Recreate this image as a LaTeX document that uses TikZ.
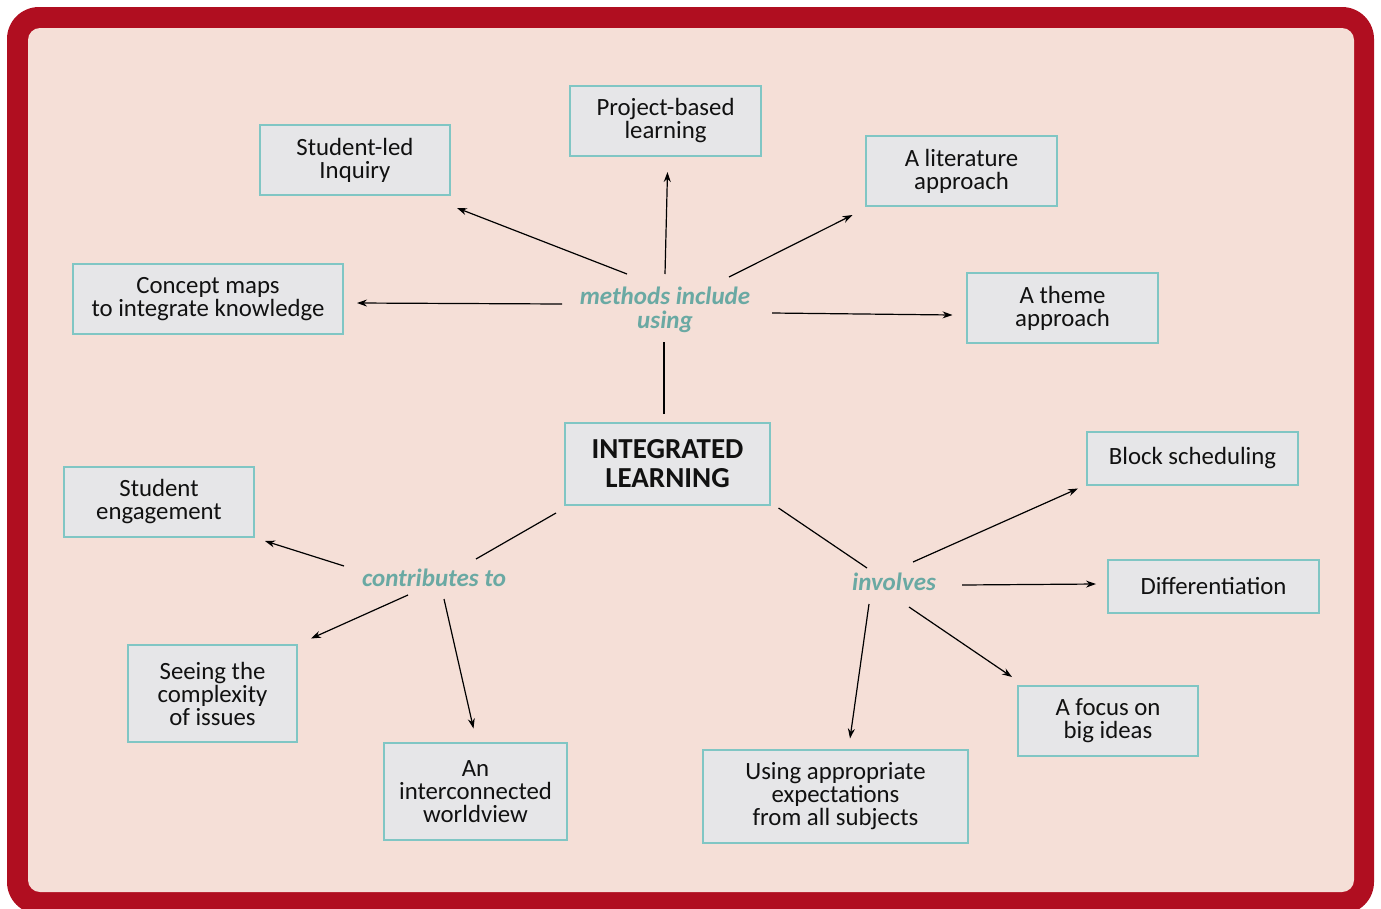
\documentclass[tikz,border=0pt]{standalone}
\usepackage{fontspec}
\setmainfont{Carlito}
\usetikzlibrary{arrows.meta,calc}
\definecolor{framered}{HTML}{B00E20}
\definecolor{bgpink}{HTML}{F5DFD7}
\definecolor{boxfill}{HTML}{E6E6E8}
\definecolor{boxline}{HTML}{80C6C4}
\definecolor{labteal}{HTML}{6AA9A3}
\definecolor{txt}{HTML}{111111}
\newcommand\boxfont{\fontsize{24.8}{23}\selectfont}
\newcommand\labfont{\fontsize{25}{24}\selectfont\bfseries\itshape}
\tikzset{
  conceptbox/.style={draw=boxline, line width=2pt, fill=boxfill, align=center,
    font=\boxfont, text=txt, inner sep=0pt, outer sep=0pt},
  linklabel/.style={align=center, font=\labfont, text=labteal, inner sep=0pt},
  arr/.style={line width=1.2pt, draw=black, -{Stealth[length=10pt,width=7pt]}},
  plain/.style={line width=1.2pt, draw=black},
}
\begin{document}
\begin{tikzpicture}[x=1pt,y=-1pt]
\useasboundingbox (0,0) rectangle (1381,908);
\fill[framered, rounded corners=32pt] (7,7) rectangle (1374,914);
\fill[bgpink, rounded corners=12pt] (28,28) rectangle (1354,892);

% central node
\node[conceptbox, minimum width=205pt, minimum height=82pt,
  font=\fontsize{29}{29}\selectfont\bfseries] (il) at (667.5,464) {INTEGRATED\\LEARNING};

% link labels
\node[linklabel] (m) at (665,310) {methods include\\using};
\node[linklabel] (c) at (434,578) {contributes to};
\node[linklabel] (v) at (894,582) {involves};

% method boxes
\node[conceptbox, minimum width=190pt, minimum height=70pt] (sli) at (355,160) {Student-led\\Inquiry};
\node[conceptbox, minimum width=191pt, minimum height=70pt] (pbl) at (665.5,121) {Project-based\\learning};
\node[conceptbox, minimum width=191pt, minimum height=70pt] (lit) at (961.5,171) {A literature\\approach};
\node[conceptbox, minimum width=270pt, minimum height=70pt] (cm) at (208,299) {Concept maps\\to integrate knowledge};
\node[conceptbox, minimum width=191pt, minimum height=70pt] (th) at (1062.5,308) {A theme\\approach};

% contributes boxes
\node[conceptbox, minimum width=190pt, minimum height=70pt] (se) at (159,502) {Student\\engagement};
\node[conceptbox, minimum width=169pt, minimum height=97pt] (sc) at (212.5,693.5) {Seeing the\\complexity\\of issues};
\node[conceptbox, minimum width=183pt, minimum height=97pt] (iw) at (475.5,791.5) {An\\interconnected\\worldview};

% involves boxes
\node[conceptbox, minimum width=211pt, minimum height=53pt] (bs) at (1192.5,458.5) {Block scheduling};
\node[conceptbox, minimum width=211pt, minimum height=53pt] (df) at (1213.5,586.5) {Differentiation};
\node[conceptbox, minimum width=180pt, minimum height=70pt] (fb) at (1108,721) {A focus on\\big ideas};
\node[conceptbox, minimum width=265pt, minimum height=93pt] (ua) at (835.5,796.5) {Using appropriate\\expectations\\from all subjects};

% connectors from the central node
\draw[plain] ($(il)+(-3.5,-50)$) -- ($(m)+(-1,32)$);
\draw[plain] ($(il)+(-111.5,49)$) -- ($(c)+(42,-19)$);
\draw[plain] ($(il)+(111,44)$) -- ($(v)+(-27,-14)$);

% methods include using
\draw[arr] ($(m)+(-38,-36)$) -- ($(sli)+(102,48)$);
\draw[arr] ($(m)+(0,-36)$) -- ($(pbl)+(2,51)$);
\draw[arr] ($(m)+(64,-33)$) -- ($(lit)+(-109,44)$);
\draw[arr] ($(m)+(-103,-6)$) -- ($(cm)+(149,4)$);
\draw[arr] ($(m)+(107,3)$) -- ($(th)+(-110,7)$);

% contributes to
\draw[arr] ($(c)+(-90,-12)$) -- ($(se)+(106,39)$);
\draw[arr] ($(c)+(-26,17)$) -- ($(sc)+(98.5,-55)$);
\draw[arr] ($(c)+(10,21)$) -- ($(iw)+(-2,-63)$);

% involves
\draw[arr] ($(v)+(19,-20)$) -- ($(bs)+(-114.5,30)$);
\draw[arr] ($(v)+(68,3)$) -- ($(df)+(-117.5,-2.5)$);
\draw[arr] ($(v)+(15,25)$) -- ($(fb)+(-96,-44)$);
\draw[arr] ($(v)+(-25,22)$) -- ($(ua)+(14.5,-58)$);
\end{tikzpicture}
\end{document}
